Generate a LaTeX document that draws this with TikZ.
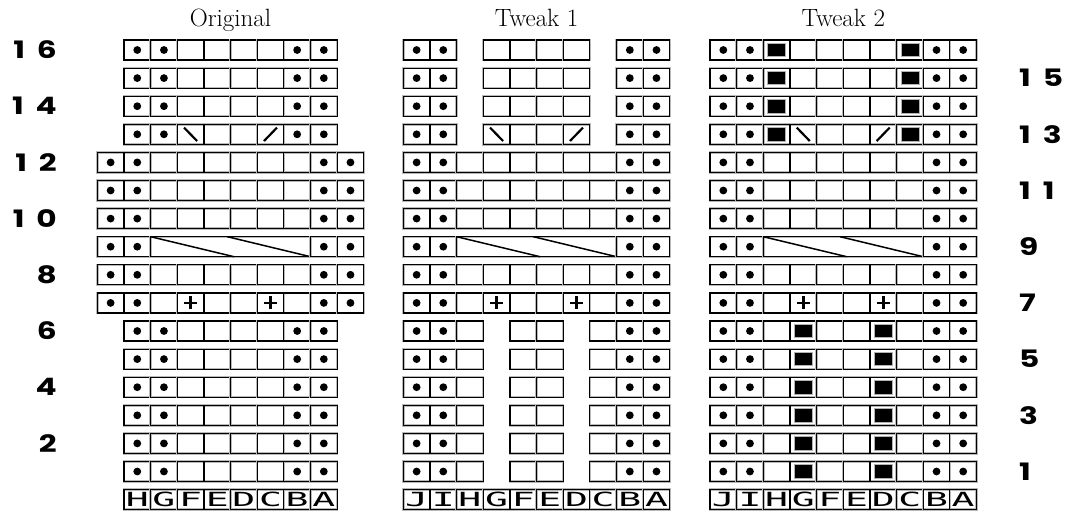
\documentclass[tikz,border=0pt]{standalone}
\usepackage{fontspec}
\newfontfamily\numfont{Poppins}[LetterSpace=38]
\newfontfamily\letfont{DejaVu Sans Mono}
\tikzset{
  gridgray/.style={gray!55, line width=2.4pt},
  gridblack/.style={black, line width=1.2pt},
  numlbl/.style={font=\numfont\bfseries\fontsize{24}{24}\selectfont, inner sep=0pt},
  titlelbl/.style={font=\fontsize{25}{25}\selectfont, inner sep=0pt, anchor=base},
  letlbl/.style={font=\letfont\fontsize{19.5}{19.5}\selectfont, inner sep=0pt},
  stitch/.style={line width=2.2pt},
  cablestitch/.style={line width=1.5pt},
}
\def\cw{26.65}
\def\rh{20}
\newcommand\cellframe[2]{%
  \draw[gridgray] ({#1},{#2}) rectangle ++(\cw,\rh);
  \draw[gridblack] ({#1},{#2}) rectangle ++(\cw,\rh);}
\newcommand\cellN[2]{}
\newcommand\cellE[2]{\cellframe{#1}{#2}}
\newcommand\cellD[2]{\cellframe{#1}{#2}\fill ({#1+\cw/2},{#2+\rh/2}) circle[radius=3.9pt];}
\newcommand\cellB[2]{\cellframe{#1}{#2}%
  \fill[black] ({#1+4.3},{#2+3.3}) rectangle ({#1+\cw-4.3},{#2+\rh-3.3});
  \draw[gray!60,line width=0.7pt] ({#1+4.3},{#2+3.3}) rectangle ({#1+\cw-4.3},{#2+\rh-3.3});}
\newcommand\cellL[2]{\cellframe{#1}{#2}\draw[stitch] ({#1+6.8},{#2+3.3}) -- ({#1+19.8},{#2+16.7});}
\newcommand\cellR[2]{\cellframe{#1}{#2}\draw[stitch] ({#1+6.8},{#2+16.7}) -- ({#1+19.8},{#2+3.3});}
\newcommand\cellP[2]{\cellframe{#1}{#2}%
  \draw[line width=2.6pt] ({#1+\cw/2-6.5},{#2+\rh/2}) -- ++(13,0) ({#1+\cw/2},{#2+3.5}) -- ++(0,13);}
\newcommand\chartrow[3]{%
  \foreach \ct [count=\kk] in {#3} {\csname cell\ct\endcsname{#1+(\kk-1)*\cw}{#2}}}
\newcommand\cablerow[2]{%
  \cellD{#1}{#2}\cellD{#1+\cw}{#2}%
  \draw[gridgray] ({#1+2*\cw},{#2}) rectangle ++({6*\cw},\rh);
  \draw[gridblack] ({#1+2*\cw},{#2}) rectangle ++({6*\cw},\rh);
  \draw[cablestitch] ({#1+2*\cw},{#2}) -- ({#1+5.13*\cw},{#2+\rh});
  \draw[cablestitch] ({#1+4.88*\cw},{#2}) -- ({#1+8*\cw},{#2+\rh});
  \cellD{#1+8*\cw}{#2}\cellD{#1+9*\cw}{#2}}
\newcommand\cellT[4]{\cellframe{#1}{#2}%
  \node[letlbl] (#4) at ({#1+\cw/2},{#2+\rh/2}) {\scalebox{1.95}[1]{#3}};}
\begin{document}
\begin{tikzpicture}[x=1pt,y=-1pt]
\fill[white] (0,0) rectangle (1071,512);
\useasboundingbox (0,0) rectangle (1071,512);
% titles
\node[titlelbl] (tOrig) at (230.5,26.7) {Original};
\node[titlelbl] (tTw1) at (536.6,26.7) {Tweak 1};
\node[titlelbl] (tTw2) at (843.3,26.7) {Tweak 2};
% ---------------- Original
\def\xo{97.3}
\foreach \rr in {16,15,14} {\chartrow{\xo}{40+(16-\rr)*28.1}{N,D,D,E,E,E,E,D,D,N}}
\chartrow{\xo}{40+3*28.1}{N,D,D,L,E,E,R,D,D,N}
\foreach \rr in {12,11,10,8} {\chartrow{\xo}{40+(16-\rr)*28.1}{D,D,E,E,E,E,E,E,D,D}}
\cablerow{\xo}{40+7*28.1}
\chartrow{\xo}{40+9*28.1}{D,D,E,P,E,E,P,E,D,D}
\foreach \rr in {6,5,4,3,2,1} {\chartrow{\xo}{40+(16-\rr)*28.1}{N,D,D,E,E,E,E,D,D,N}}
\foreach \lt [count=\kk] in {H,G,F,E,D,C,B,A} {\cellT{\xo+\kk*\cw}{40+16*28.1}{\lt}{o\kk}}
% ---------------- Tweak 1
\def\xo{403.3}
\foreach \rr in {16,15,14} {\chartrow{\xo}{40+(16-\rr)*28.1}{D,D,N,E,E,E,E,N,D,D}}
\chartrow{\xo}{40+3*28.1}{D,D,N,L,E,E,R,N,D,D}
\foreach \rr in {12,11,10,8} {\chartrow{\xo}{40+(16-\rr)*28.1}{D,D,E,E,E,E,E,E,D,D}}
\cablerow{\xo}{40+7*28.1}
\chartrow{\xo}{40+9*28.1}{D,D,E,P,E,E,P,E,D,D}
\foreach \rr in {6,5,4,3,2,1} {\chartrow{\xo}{40+(16-\rr)*28.1}{D,D,E,N,E,E,N,E,D,D}}
\foreach \lt [count=\kk] in {J,I,H,G,F,E,D,C,B,A} {\cellT{\xo+(\kk-1)*\cw}{40+16*28.1}{\lt}{a\kk}}
% ---------------- Tweak 2
\def\xo{710}
\foreach \rr in {16,15,14} {\chartrow{\xo}{40+(16-\rr)*28.1}{D,D,B,E,E,E,E,B,D,D}}
\chartrow{\xo}{40+3*28.1}{D,D,B,L,E,E,R,B,D,D}
\foreach \rr in {12,11,10,8} {\chartrow{\xo}{40+(16-\rr)*28.1}{D,D,E,E,E,E,E,E,D,D}}
\cablerow{\xo}{40+7*28.1}
\chartrow{\xo}{40+9*28.1}{D,D,E,P,E,E,P,E,D,D}
\foreach \rr in {6,5,4,3,2,1} {\chartrow{\xo}{40+(16-\rr)*28.1}{D,D,E,B,E,E,B,E,D,D}}
\foreach \lt [count=\kk] in {J,I,H,G,F,E,D,C,B,A} {\cellT{\xo+(\kk-1)*\cw}{40+16*28.1}{\lt}{b\kk}}
% ---------------- row numbers
\foreach \rr in {16,14,12,10,8,6,4,2}
  {\node[numlbl, anchor=east] (nl\rr) at ({57},{40+(16-\rr)*28.1+10}) {\scalebox{1.3}[1]{\rr}};}
\foreach \rr in {15,13,11,9,7,5,3,1}
  {\node[numlbl, anchor=west] (nr\rr) at ({1019},{40+(16-\rr)*28.1+10}) {\scalebox{1.3}[1]{\rr}};}
\end{tikzpicture}
\end{document}
